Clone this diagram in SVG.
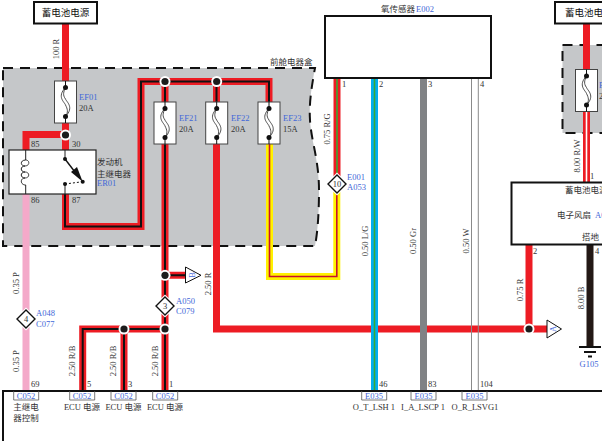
<svg xmlns="http://www.w3.org/2000/svg" xmlns:xlink="http://www.w3.org/1999/xlink" width="602" height="441" viewBox="0 0 602 441">
<style>
text{font-family:"Liberation Serif","Noto Sans CJK SC",serif;font-size:8.5px;fill:#333}
.b{fill:#3f67d8}
.m{text-anchor:middle}
.title{font-size:9.5px;fill:#111}
.w{fill:none;stroke-linejoin:miter;stroke-linecap:butt}
.red{stroke:#ed1c24;stroke-width:7}
.core{stroke:#111;stroke-width:2}
.pink{stroke:#f4a9c9;stroke-width:7}
.yellow{stroke:#fff200;stroke-width:7}
.thinred{stroke:#c8102e;stroke-width:1.6}
.green{stroke:#3aa935;stroke-width:1.6}
.blue{stroke:#00aeef;stroke-width:7}
.gray{stroke:#808285;stroke-width:7}
.box{fill:#fff;stroke:#111;stroke-width:2}
.zone{fill:#c5c7c9;stroke:#111;stroke-width:2;stroke-dasharray:10 7}
.tag{fill:none;stroke:#555;stroke-width:.8}
.hair{fill:none;stroke:#8a8a8a;stroke-width:1}
</style>
<defs>
<g id="fuse">
<rect x="-11" y="-21" width="22" height="42" fill="#fff" stroke="#444" stroke-width="1"/>
<path d="M0-21V-14.5M0 14.5V21" stroke="#111" stroke-width="1"/>
<path d="M0-14.5C-9-5 -1 0 0 3C2 7 3 10 0 14.5M0-14.5C-2-10 -3-7 0-3C1 0 9 5 0 14.5" fill="none" stroke="#222" stroke-width=".8"/>
<circle cy="-14.5" r="2.5" fill="#111"/><circle cy="14.5" r="2.5" fill="#111"/>
</g>
<g id="junction"><circle r="5.5" fill="#fff"/><circle r="3.6" fill="#1c1c1c"/></g>
<g id="diamond"><path d="M0-11.5L11.5 0L0 11.5L-11.5 0Z" fill="#fff"/><path d="M0-9L9 0L0 9L-9 0Z" fill="#fff" stroke="#111" stroke-width="1.4"/></g>
<path id="tagshape" d="M0 0V9H25V0" class="tag"/>
</defs>

<path id="zone-front" class="zone" d="M3 68H315C311 90 309 105 310 120C311 140 319 160 319 190C319 210 318 230 315 246H3Z"/>
<path id="zone-right" class="zone" d="M562.500 45H610V133H562.500Z"/>

<g id="connectors">
<path class="w red" d="M65.500 24V131"/>
<path class="w red" d="M26 150V134.500H65.500V150"/>
<path class="w pink" d="M26 194V390"/>
<path class="w red" d="M65.500 194V226.500H141V81.500H269V102"/>
<path class="w core" d="M65 194V226.500H141V81.500H269V102"/>
<path class="w red" d="M165 81.500V390M216.500 81.500V102M165 275.300H186"/>
<path class="w core" d="M165 81.500V390M216.500 81.500V102M165 275.300H186"/>
<path class="w red" d="M165 329H82.700V390M124 329V390"/>
<path class="w core" d="M165 329H82.700V390M124 329V390"/>
<path class="w red" d="M216.500 144V329H547M529 245V329"/>
<path class="w yellow" d="M269.500 144V276.500H336.800V186"/>
<path class="w thinred" d="M269.500 144V276.500H336.800V186"/>
<path class="w red" d="M337 78V180"/>
<path class="w green" d="M337 78V180"/>
<path class="w blue" d="M374.500 78V391"/>
<path class="w green" d="M374.500 78V391"/>
<path class="w gray" d="M423.500 78V391"/>
<path class="hair" d="M471.500 78V391M478.300 78V391"/>
<path class="w red" d="M586.500 24V70"/>
<path class="w red" d="M586.500 111V182"/>
<path d="M586.500 111V182" stroke="#fff" stroke-width="1.600" fill="none"/>
<path d="M590 245V347" stroke="#231815" stroke-width="7" fill="none"/>
</g>

<g id="battery-left"><rect class="box" x="34" y="2" width="63" height="21.500"/><text class="m title" x="65.500" y="16">蓄电池电源</text></g>
<g id="battery-right"><rect class="box" x="555" y="2" width="60" height="21.500"/><text class="title" x="565" y="16">蓄电池电源</text></g>

<g id="EF01"><use xlink:href="#fuse" x="65.500" y="102"/><text class="b" x="79" y="100">EF01</text><text x="79" y="111">20A</text></g>
<g id="EF21"><use xlink:href="#fuse" x="165" y="123"/><text class="b" x="179" y="121">EF21</text><text x="179" y="132">20A</text></g>
<g id="EF22"><use xlink:href="#fuse" x="216.700" y="123"/><text class="b" x="231" y="121">EF22</text><text x="231" y="132">20A</text></g>
<g id="EF23"><use xlink:href="#fuse" x="269" y="123"/><text class="b" x="283" y="121">EF23</text><text x="283" y="132">15A</text></g>
<g id="EF-right"><use xlink:href="#fuse" x="586.500" y="90.500"/><text class="b" x="599" y="88">E</text><text x="599" y="99">2</text></g>

<g id="J1"><use xlink:href="#junction" x="65.500" y="135"/></g>
<g id="J2"><use xlink:href="#junction" x="165" y="81.500"/></g>
<g id="J3"><use xlink:href="#junction" x="216.700" y="81.500"/></g>
<g id="J4"><use xlink:href="#junction" x="165" y="275.300"/></g>
<g id="J5"><use xlink:href="#junction" x="165" y="329"/></g>
<g id="J6"><use xlink:href="#junction" x="124" y="329"/></g>
<g id="J7"><use xlink:href="#junction" x="529" y="329"/></g>

<g id="ER01">
<rect x="9" y="150" width="87" height="44" fill="#fff" stroke="#222" stroke-width="1.200"/>
<path d="M25.700 150V160C20 160 20 166 25 166C20 166 20 172 25 172C20 172 20 178 25 178C20 178 20 185 25.700 185V194" fill="none" stroke="#222" stroke-width="1"/>
<path d="M25.700 160C30 160 30 166 25 166M25 172C30 172 30 178 25 178" fill="none" stroke="#222" stroke-width=".8"/>
<path d="M65 150V159M65 184V194" stroke="#222" stroke-width="1"/>
<path d="M65 159L78 176" stroke="#111" stroke-width="1.400"/>
<path d="M82.700 181.700L71 172L77 167Z" fill="#111"/>
<path d="M65 184L82.700 181.700" stroke="#111" stroke-width="1" stroke-dasharray="2 2"/>
<circle cx="65" cy="159" r="2" fill="#111"/><circle cx="65" cy="184" r="2" fill="#111"/><circle cx="82.700" cy="181.700" r="2" fill="#111"/>
<text x="31" y="147">85</text><text x="72" y="147">30</text><text x="31" y="203">86</text><text x="72" y="203">87</text>
<text x="97" y="165">发动机</text><text x="97" y="176.500">主继电器</text><text class="b" x="97" y="186">ER01</text>
</g>

<g id="E002"><rect class="box" x="325" y="16" width="166" height="62"/><text x="381" y="12">氧传感器</text><text class="b" x="416" y="12">E002</text>
<text x="342" y="87">1</text><text x="379" y="87">2</text><text x="428" y="87">3</text><text x="480" y="87">4</text></g>

<g id="A050"><use xlink:href="#diamond" x="165" y="306"/><text class="m" x="165" y="309">3</text><text class="b" x="176" y="304">A050</text><text class="b" x="176" y="314">C079</text></g>
<g id="A048"><use xlink:href="#diamond" x="26" y="319"/><text class="m" x="26" y="322">4</text><text class="b" x="36" y="316">A048</text><text class="b" x="36" y="327">C077</text></g>
<g id="A053"><use xlink:href="#diamond" x="337" y="184"/><text class="m" x="337" y="187">10</text><text class="b" x="347" y="180">E001</text><text class="b" x="347" y="190">A053</text></g>

<g id="offpage-B"><path d="M185.500 267L201 275.300L185.500 283Z" fill="#fff" stroke="#111" stroke-width="1"/><text class="b m" transform="rotate(-90 192 275)" x="192" y="278">B</text></g>
<g id="offpage-A"><path d="M547 320L561.500 329L547 338Z" fill="#fff" stroke="#111" stroke-width="1"/><text class="b m" transform="rotate(-90 553 329)" x="553" y="332">A</text></g>

<g id="module-right"><rect class="box" x="511.500" y="182.500" width="100" height="62"/><text x="565" y="193">蓄电池电源</text><text x="557" y="218">电子风扇</text><text class="b" x="595" y="218">A0</text><text x="582" y="240">搭地</text>
<text x="590" y="179">1</text><text x="533" y="254">2</text><text x="595" y="254">4</text></g>

<g id="G105"><path d="M579 347H601M584 352H596M588 356.500H592" stroke="#111" stroke-width="2"/><text class="b m" x="589" y="367">G105</text></g>

<g id="ecu">
<path d="M3 441V391H602" fill="none" stroke="#111" stroke-width="2"/>
<text x="31" y="387">69</text><text x="87" y="387">5</text><text x="128" y="387">3</text><text x="169" y="387">1</text>
<text x="379" y="387">46</text><text x="428" y="387">83</text><text x="480" y="387">104</text>
<use xlink:href="#tagshape" x="13.700" y="391"/><text class="b m" x="26" y="399">C052</text>
<use xlink:href="#tagshape" x="69.700" y="391"/><text class="b m" x="82" y="399">C052</text>
<use xlink:href="#tagshape" x="111" y="391"/><text class="b m" x="123.500" y="399">C052</text>
<use xlink:href="#tagshape" x="152.700" y="391"/><text class="b m" x="165" y="399">C052</text>
<use xlink:href="#tagshape" x="361.700" y="391"/><text class="b m" x="374" y="399">E035</text>
<use xlink:href="#tagshape" x="411" y="391"/><text class="b m" x="423.500" y="399">E035</text>
<use xlink:href="#tagshape" x="462" y="391"/><text class="b m" x="474.500" y="399">E035</text>
<text class="m" x="26" y="410">主继电</text><text class="m" x="26" y="421">器控制</text>
<text class="m" x="82" y="410">ECU 电源</text><text class="m" x="123.500" y="410">ECU 电源</text><text class="m" x="165" y="410">ECU 电源</text>
<text class="m" x="374" y="410">O_T_LSH 1</text><text class="m" x="423" y="410">I_A_LSCP 1</text><text class="m" x="475" y="410">O_R_LSVG1</text>
</g>

<g id="labels">
<text x="270" y="65">前舱电器盒</text>
<text class="m" transform="rotate(-90 59 49)" x="59" y="49">100 R</text>
<text class="m" transform="rotate(-90 19 283)" x="19" y="283">0.35 P</text>
<text class="m" transform="rotate(-90 19 361)" x="19" y="361">0.35 P</text>
<text class="m" transform="rotate(-90 75 361)" x="75" y="361">2.50 R/B</text>
<text class="m" transform="rotate(-90 116 361)" x="116" y="361">2.50 R/B</text>
<text class="m" transform="rotate(-90 158 361)" x="158" y="361">2.50 R/B</text>
<text class="m" transform="rotate(-90 211 284)" x="211" y="284">2.50 R</text>
<text class="m" transform="rotate(-90 330 129)" x="330" y="129">0.75 R/G</text>
<text class="m" transform="rotate(-90 368 241)" x="368" y="241">0.50 L/G</text>
<text class="m" transform="rotate(-90 416 241)" x="416" y="241">0.50 Gr</text>
<text class="m" transform="rotate(-90 469 241)" x="469" y="241">0.50 W</text>
<text class="m" transform="rotate(-90 580 156)" x="580" y="156">8.00 R/W</text>
<text class="m" transform="rotate(-90 523 290)" x="523" y="290">0.75 R</text>
<text class="m" transform="rotate(-90 584 298)" x="584" y="298">8.00 B</text>
</g>
</svg>
